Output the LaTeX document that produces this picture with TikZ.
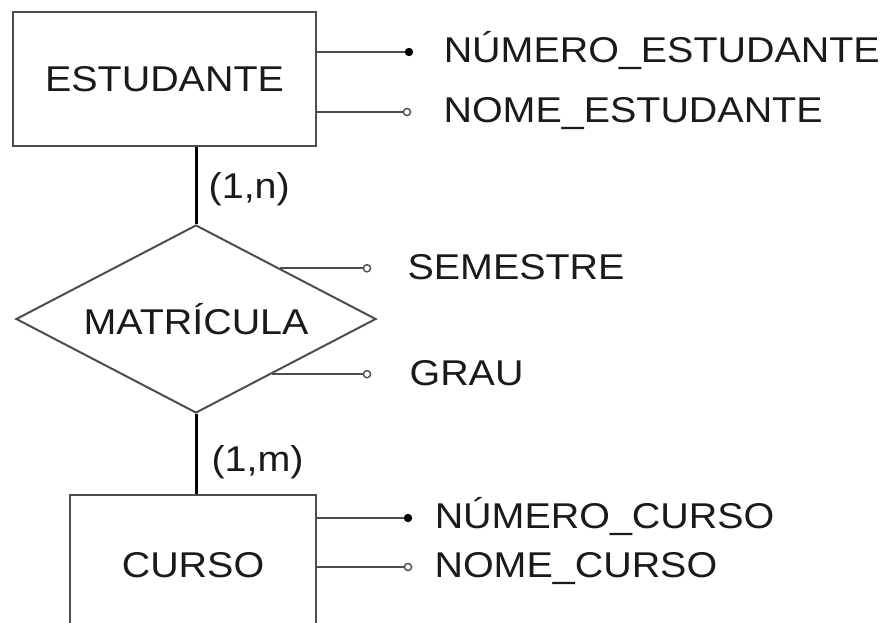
\documentclass[tikz,border=0pt]{standalone}
\usepackage{fontspec}
\setmainfont[FakeStretch=1.1]{Liberation Sans}
\usepackage{xcolor}
\definecolor{cLine}{HTML}{4D4D4D}
\definecolor{cInk}{HTML}{1A1A1A}
\usepackage{tikz}
\usetikzlibrary{positioning,shapes.geometric}
\newcommand{\erfont}{\fontsize{25.5}{30}\selectfont}
\tikzset{
  node-entity/.style={draw=cLine,line width=0.55mm,font=\erfont,text=cInk},
  node-rel/.style={draw=cLine,line width=0.5mm,diamond,aspect=1.9,inner sep=0pt,
    minimum width=90mm,minimum height=47mm,font=\erfont,text=cInk},
  attr-key/.style={circle,fill=black,inner sep=0pt,minimum size=2.1mm},
  attr-plain/.style={circle,draw=cLine,line width=0.35mm,fill=white,inner sep=0pt,minimum size=1.8mm},
  attr-text/.style={font=\erfont,text=cInk,inner sep=0pt,text height=18.4pt,text depth=0pt,yshift=0.5mm},
  card-text/.style={font=\erfont,text=cInk,inner sep=0pt,text height=18.4pt,text depth=0pt},
  link/.style={draw=cLine,line width=0.5mm},
  link-rel/.style={draw=black,line width=0.75mm},
}

\begin{document}
\begin{tikzpicture}[x=0.25mm,y=-0.25mm]
  \path[use as bounding box,clip] (0,0) rectangle (887,622);
  % entidades e relacionamento
  \node[node-entity,minimum width=75.75mm,minimum height=33.5mm] (estudante) at (164.5,79) {ESTUDANTE};
  \node[node-rel] (matricula) at (196,319) {MATRÍCULA};
  \node[node-entity,minimum width=61.5mm,minimum height=35mm] (curso) at (193,565) {CURSO};

  \draw[link-rel] (matricula.north |- estudante.south) -- node[card-text,right=2.8mm]{(1,n)} (matricula.north);
  \draw[link-rel] (matricula.south) -- node[card-text,right=3.5mm,yshift=-1.2mm]{(1,m)} (matricula.south |- curso.north);

  % atributos de ESTUDANTE
  \node[attr-key] (num-est) at (409,52) {};
  \node[attr-plain] (nome-est) at (407,112) {};
  \draw[link] (num-est -| estudante.east) -- (num-est);
  \draw[link] (nome-est -| estudante.east) -- (nome-est);
  \node[attr-text,right=7.5mm of num-est] (num-est-txt) {NÚMERO\_ESTUDANTE};
  \node[attr-text,right=8mm of nome-est] (nome-est-txt) {NOME\_ESTUDANTE};

  % atributos de MATRICULA
  \node[attr-plain] (sem-dot) at (matricula.31.8 -| 367,0) {};
  \node[attr-plain] (grau-dot) at (matricula.-36.4 -| 367,0) {};
  \draw[link] (matricula.31.8) -- (sem-dot);
  \draw[link] (matricula.-36.4) -- (grau-dot);
  \node[attr-text,right=9mm of sem-dot] (sem-txt) {SEMESTRE};
  \node[attr-text,right=9.5mm of grau-dot] (grau-txt) {GRAU};

  % atributos de CURSO
  \node[attr-key] (num-cur) at (408,518) {};
  \node[attr-plain] (nome-cur) at (408,567) {};
  \draw[link] (num-cur -| curso.east) -- (num-cur);
  \draw[link] (nome-cur -| curso.east) -- (nome-cur);
  \node[attr-text,right=5.5mm of num-cur] (num-cur-txt) {NÚMERO\_CURSO};
  \node[attr-text,right=5.5mm of nome-cur] (nome-cur-txt) {NOME\_CURSO};
\end{tikzpicture}
\end{document}
